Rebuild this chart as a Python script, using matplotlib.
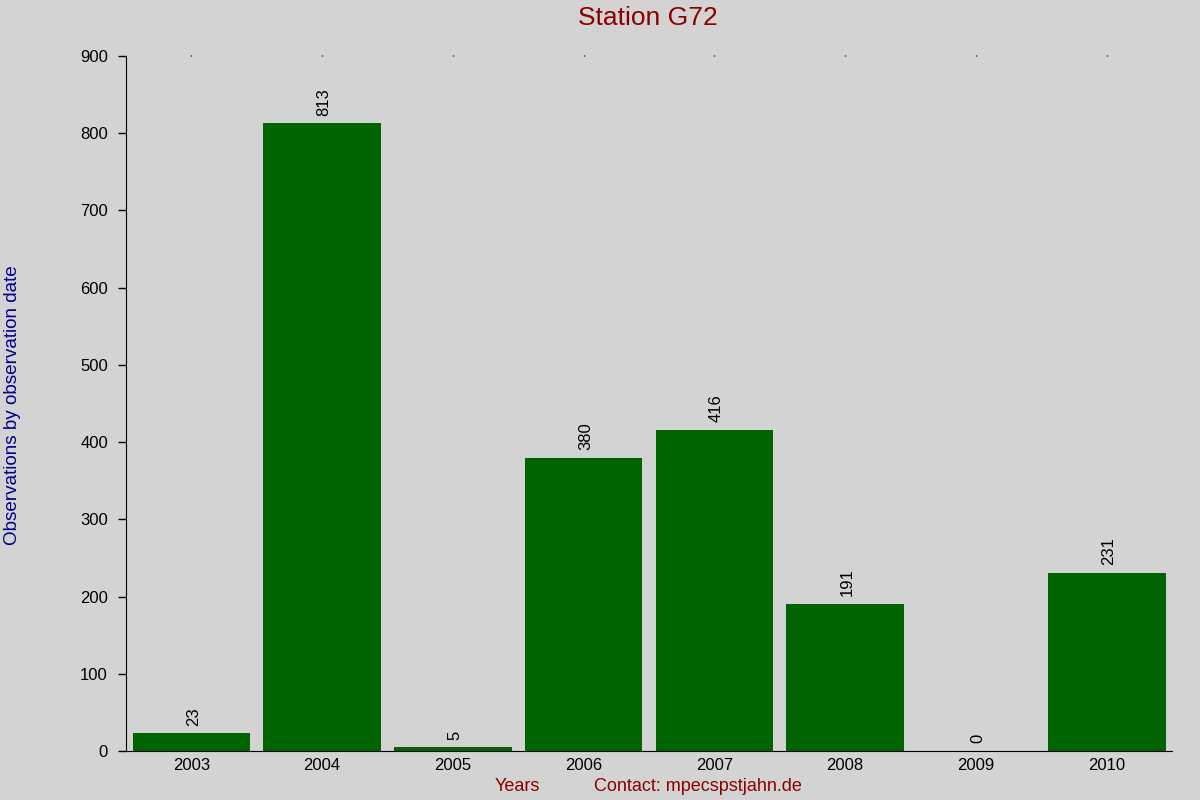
import matplotlib
matplotlib.use("Agg")
import matplotlib.pyplot as plt
import numpy as np

# observations per year for station G72
years = ["2003", "2004", "2005", "2006", "2007", "2008", "2009", "2010"]
counts = [23, 813, 5, 380, 416, 191, 0, 231]
y_ticks = [0, 100, 200, 300, 400, 500, 600, 700, 800, 900]

plt.rcParams["font.family"] = ["Liberation Sans", "DejaVu Sans"]

bg = "#d3d3d3"
fig = plt.figure(figsize=(12, 8), dpi=100, facecolor=bg)
ax = fig.add_axes([0.105, 0.06125, 0.8717, 0.86875], facecolor=bg)

x = np.arange(len(years))
ax.bar(x, counts, width=0.9, color="#006400")

for xi, c in zip(x, counts):
    ax.annotate(str(c), (xi, c), xytext=(1.5, 5.5), textcoords="offset points",
                rotation=90, ha="center", va="bottom", fontsize=12)

ax.set_xlim(-0.5, len(years) - 0.5)
ax.set_ylim(0, 900)
ax.set_yticks(y_ticks)
ax.set_xticks(x)
ax.set_xticklabels(years)

ax.tick_params(axis="y", length=6, width=1, labelsize=12, pad=7)
ax.tick_params(axis="x", bottom=False, top=True, length=1, width=1,
               labelsize=12, pad=4)

for side in ("top", "right"):
    ax.spines[side].set_visible(False)

fig.text(0.54, 0.977, "Station G72", ha="center", va="center",
         fontsize=19, color="#8b0000")
fig.text(0.0105, 0.494, "Observations by observation date", rotation=90,
         ha="center", va="center", fontsize=13.6, color="#00008b")
fig.text(0.431, 0.017, "Years", ha="center", va="center",
         fontsize=13, color="#8b0000")
fig.text(0.5815, 0.017, "Contact: mpecspstjahn.de", ha="center", va="center",
         fontsize=13, color="#8b0000")

fig.savefig("out.png", dpi=100, facecolor=bg)
